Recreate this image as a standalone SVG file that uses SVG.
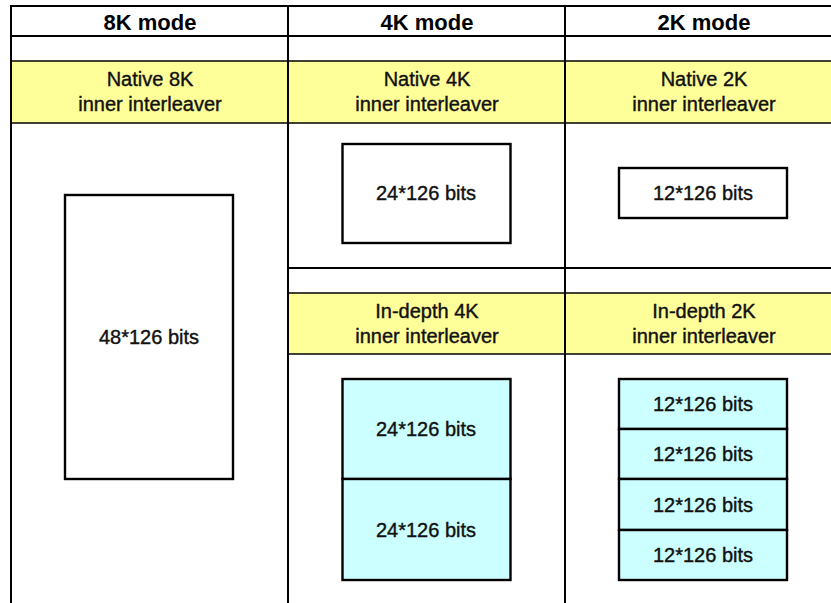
<svg xmlns="http://www.w3.org/2000/svg" width="831" height="603" viewBox="0 0 831 603">
  <style>
    .head { font-family: "Liberation Sans", Arial, sans-serif; font-size: 22px; font-weight: bold; fill: #000; text-anchor: middle; }
    .lbl { font-family: "Liberation Sans", Arial, sans-serif; font-size: 20px; fill: #111; stroke: #111; stroke-width: 0.4; text-anchor: middle; }
    .band { fill: #ffff99; }
    .grid { stroke: #000; stroke-width: 2; fill: none; }
    .thin { stroke: #000; stroke-width: 1.3; fill: none; }
    .box { stroke: #000; stroke-width: 2.4; fill: #fff; }
    .cyan { stroke: #000; stroke-width: 2.4; fill: #ccffff; }
  </style>

  <rect x="0" y="0" width="831" height="603" fill="#fff"/>

  <!-- yellow title bands -->
  <g id="bands">
    <rect class="band" x="11" y="61" width="820" height="62"/>
    <rect class="band" x="288" y="293" width="543" height="61"/>
  </g>

  <!-- table rules -->
  <g id="table">
    <line class="grid" x1="11" y1="6" x2="831" y2="6"/>
    <line class="grid" x1="11" y1="36" x2="831" y2="36"/>
    <line class="thin" x1="11" y1="61" x2="831" y2="61"/>
    <line class="thin" x1="11" y1="123" x2="831" y2="123"/>
    <line class="grid" x1="288" y1="268" x2="831" y2="268"/>
    <line class="thin" x1="288" y1="293" x2="831" y2="293"/>
    <line class="thin" x1="288" y1="354" x2="831" y2="354"/>
    <line class="grid" x1="11" y1="5" x2="11" y2="603"/>
    <line class="grid" x1="288" y1="5" x2="288" y2="603"/>
    <line class="grid" x1="565" y1="5" x2="565" y2="603"/>
  </g>

  <!-- column headings -->
  <g id="headings">
    <text class="head" x="150" y="30">8K mode</text>
    <text class="head" x="427" y="30">4K mode</text>
    <text class="head" x="704" y="30">2K mode</text>
  </g>

  <g id="native-8k-title">
    <text class="lbl" x="150" y="86">Native 8K</text>
    <text class="lbl" x="150" y="111">inner interleaver</text>
  </g>
  <g id="native-4k-title">
    <text class="lbl" x="427" y="86">Native 4K</text>
    <text class="lbl" x="427" y="111">inner interleaver</text>
  </g>
  <g id="native-2k-title">
    <text class="lbl" x="704" y="86">Native 2K</text>
    <text class="lbl" x="704" y="111">inner interleaver</text>
  </g>
  <g id="indepth-4k-title">
    <text class="lbl" x="427" y="318">In-depth 4K</text>
    <text class="lbl" x="427" y="343">inner interleaver</text>
  </g>
  <g id="indepth-2k-title">
    <text class="lbl" x="704" y="318">In-depth 2K</text>
    <text class="lbl" x="704" y="343">inner interleaver</text>
  </g>

  <!-- memory blocks -->
  <g id="block-8k">
    <rect class="box" x="65" y="195" width="168" height="284"/>
    <text class="lbl" x="149" y="344">48*126 bits</text>
  </g>
  <g id="block-4k-native">
    <rect class="box" x="342.5" y="144" width="168" height="99"/>
    <text class="lbl" x="426" y="200">24*126 bits</text>
  </g>
  <g id="block-2k-native">
    <rect class="box" x="619" y="168" width="168" height="50"/>
    <text class="lbl" x="703" y="200">12*126 bits</text>
  </g>
  <g id="block-4k-indepth">
    <rect class="cyan" x="342.5" y="379" width="168" height="100"/>
    <rect class="cyan" x="342.5" y="479" width="168" height="101"/>
    <text class="lbl" x="426" y="436">24*126 bits</text>
    <text class="lbl" x="426" y="537">24*126 bits</text>
  </g>
  <g id="block-2k-indepth">
    <rect class="cyan" x="619" y="379" width="168" height="50"/>
    <rect class="cyan" x="619" y="429" width="168" height="50"/>
    <rect class="cyan" x="619" y="479" width="168" height="51"/>
    <rect class="cyan" x="619" y="530" width="168" height="50"/>
    <text class="lbl" x="703" y="411">12*126 bits</text>
    <text class="lbl" x="703" y="461">12*126 bits</text>
    <text class="lbl" x="703" y="512">12*126 bits</text>
    <text class="lbl" x="703" y="562">12*126 bits</text>
  </g>
</svg>
